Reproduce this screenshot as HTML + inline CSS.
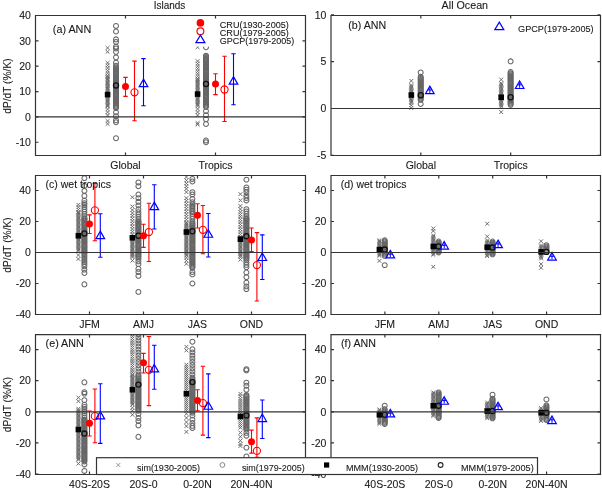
<!DOCTYPE html>
<html><head><meta charset="utf-8"><style>
html,body{margin:0;padding:0;background:#fff;overflow:hidden;}
svg{display:block;will-change:transform;}
text{font-family:"Liberation Sans", sans-serif;fill:#1a1a1a;stroke:#1a1a1a;stroke-width:0.1px;}
</style></head><body>
<svg width="602" height="488" viewBox="0 0 602 488">
<defs><path id="mx" d="M-1.9 -1.9L1.9 1.9M-1.9 1.9L1.9 -1.9" stroke="#6c6c6c" stroke-width="1" fill="none"/><circle id="mo" r="2.45" stroke="#666666" stroke-width="1.05" fill="none"/><clipPath id="clipa"><rect x="35.5" y="15.5" width="270.0" height="140.0"/></clipPath><clipPath id="clipb"><rect x="331.0" y="15.5" width="269.5" height="140.0"/></clipPath><clipPath id="clipc"><rect x="35.5" y="175.5" width="270.0" height="139.0"/></clipPath><clipPath id="clipd"><rect x="331.0" y="175.5" width="269.5" height="139.0"/></clipPath><clipPath id="clipe"><rect x="35.5" y="334.6" width="270.0" height="139.89999999999998"/></clipPath><clipPath id="clipf"><rect x="331.0" y="334.6" width="269.5" height="139.89999999999998"/></clipPath></defs>
<rect width="602" height="488" fill="#fff"/>
<g clip-path="url(#clipa)"><use href="#mx" x="107.6" y="47.9"/><use href="#mx" x="107.6" y="51.8"/><use href="#mx" x="107.6" y="75.8"/><use href="#mx" x="107.6" y="73.2"/><use href="#mx" x="107.6" y="70.7"/><use href="#mx" x="107.6" y="68.1"/><use href="#mx" x="107.6" y="65.5"/><use href="#mx" x="107.6" y="62.9"/><use href="#mx" x="107.6" y="105.5"/><use href="#mx" x="107.6" y="104.2"/><use href="#mx" x="107.6" y="102.9"/><use href="#mx" x="107.6" y="101.6"/><use href="#mx" x="107.6" y="100.3"/><use href="#mx" x="107.6" y="99.0"/><use href="#mx" x="107.6" y="97.8"/><use href="#mx" x="107.6" y="96.5"/><use href="#mx" x="107.6" y="95.2"/><use href="#mx" x="107.6" y="93.9"/><use href="#mx" x="107.6" y="92.6"/><use href="#mx" x="107.6" y="91.3"/><use href="#mx" x="107.6" y="90.0"/><use href="#mx" x="107.6" y="88.7"/><use href="#mx" x="107.6" y="87.4"/><use href="#mx" x="107.6" y="86.1"/><use href="#mx" x="107.6" y="84.9"/><use href="#mx" x="107.6" y="83.6"/><use href="#mx" x="107.6" y="82.3"/><use href="#mx" x="107.6" y="81.0"/><use href="#mx" x="107.6" y="79.7"/><use href="#mx" x="107.6" y="78.4"/><use href="#mx" x="107.6" y="77.1"/><use href="#mx" x="107.6" y="75.8"/><use href="#mx" x="107.6" y="115.1"/><use href="#mx" x="107.6" y="112.2"/><use href="#mx" x="107.6" y="109.2"/><use href="#mx" x="107.6" y="106.3"/><use href="#mx" x="107.6" y="121.0"/><use href="#mx" x="107.6" y="123.9"/></g>
<g clip-path="url(#clipa)"><use href="#mo" x="116.0" y="25.9"/><use href="#mo" x="116.0" y="31.5"/><use href="#mo" x="116.0" y="39.3"/><use href="#mo" x="116.0" y="41.9"/><use href="#mo" x="116.0" y="46.7"/><use href="#mo" x="116.0" y="48.5"/><use href="#mo" x="116.0" y="51.8"/><use href="#mo" x="116.0" y="57.3"/><use href="#mo" x="116.0" y="62.7"/><use href="#mo" x="116.0" y="65.7"/><use href="#mo" x="116.0" y="108.0"/><use href="#mo" x="116.0" y="106.9"/><use href="#mo" x="116.0" y="105.8"/><use href="#mo" x="116.0" y="104.7"/><use href="#mo" x="116.0" y="103.6"/><use href="#mo" x="116.0" y="102.5"/><use href="#mo" x="116.0" y="101.5"/><use href="#mo" x="116.0" y="100.4"/><use href="#mo" x="116.0" y="99.3"/><use href="#mo" x="116.0" y="98.2"/><use href="#mo" x="116.0" y="97.1"/><use href="#mo" x="116.0" y="96.0"/><use href="#mo" x="116.0" y="94.9"/><use href="#mo" x="116.0" y="93.8"/><use href="#mo" x="116.0" y="92.7"/><use href="#mo" x="116.0" y="91.6"/><use href="#mo" x="116.0" y="90.5"/><use href="#mo" x="116.0" y="89.4"/><use href="#mo" x="116.0" y="88.3"/><use href="#mo" x="116.0" y="87.2"/><use href="#mo" x="116.0" y="86.1"/><use href="#mo" x="116.0" y="85.0"/><use href="#mo" x="116.0" y="83.9"/><use href="#mo" x="116.0" y="82.8"/><use href="#mo" x="116.0" y="81.7"/><use href="#mo" x="116.0" y="80.6"/><use href="#mo" x="116.0" y="79.5"/><use href="#mo" x="116.0" y="78.4"/><use href="#mo" x="116.0" y="77.3"/><use href="#mo" x="116.0" y="76.2"/><use href="#mo" x="116.0" y="75.1"/><use href="#mo" x="116.0" y="74.0"/><use href="#mo" x="116.0" y="72.9"/><use href="#mo" x="116.0" y="71.9"/><use href="#mo" x="116.0" y="70.8"/><use href="#mo" x="116.0" y="69.7"/><use href="#mo" x="116.0" y="68.6"/><use href="#mo" x="116.0" y="67.5"/><use href="#mo" x="116.0" y="112.3"/><use href="#mo" x="116.0" y="116.1"/><use href="#mo" x="116.0" y="120.2"/><use href="#mo" x="116.0" y="122.2"/><use href="#mo" x="116.0" y="138.2"/></g>
<rect x="104.80" y="91.79" width="5.6" height="5.6" fill="#000"/>
<circle cx="116.00" cy="85.47" r="2.55" stroke="#111" stroke-width="1.3" fill="none"/>
<path d="M125.50 96.37V77.35M123.30 96.37H127.70M123.30 77.35H127.70" stroke="#ff0000" stroke-width="1.1" fill="none"/>
<circle cx="125.50" cy="86.48" r="3.5" fill="#ff0000"/>
<path d="M134.50 120.70V61.13M132.30 120.70H136.70M132.30 61.13H136.70" stroke="#ff0000" stroke-width="1.1" fill="none"/>
<circle cx="134.50" cy="92.31" r="3.6" stroke="#ff0000" stroke-width="1.1" fill="none"/>
<path d="M143.50 105.75V58.59M141.30 105.75H145.70M141.30 58.59H145.70" stroke="#0000ff" stroke-width="1.1" fill="none"/>
<path d="M143.50 79.14L147.80 86.64H139.20Z" stroke="#0000ff" stroke-width="1.2" fill="none" stroke-linejoin="miter"/>
<g clip-path="url(#clipa)"><use href="#mx" x="197.6" y="47.2"/><use href="#mx" x="197.6" y="78.9"/><use href="#mx" x="197.6" y="76.3"/><use href="#mx" x="197.6" y="73.8"/><use href="#mx" x="197.6" y="71.3"/><use href="#mx" x="197.6" y="68.7"/><use href="#mx" x="197.6" y="66.2"/><use href="#mx" x="197.6" y="63.7"/><use href="#mx" x="197.6" y="61.1"/><use href="#mx" x="197.6" y="106.0"/><use href="#mx" x="197.6" y="104.7"/><use href="#mx" x="197.6" y="103.4"/><use href="#mx" x="197.6" y="102.1"/><use href="#mx" x="197.6" y="100.8"/><use href="#mx" x="197.6" y="99.5"/><use href="#mx" x="197.6" y="98.2"/><use href="#mx" x="197.6" y="97.0"/><use href="#mx" x="197.6" y="95.7"/><use href="#mx" x="197.6" y="94.4"/><use href="#mx" x="197.6" y="93.1"/><use href="#mx" x="197.6" y="91.8"/><use href="#mx" x="197.6" y="90.5"/><use href="#mx" x="197.6" y="89.2"/><use href="#mx" x="197.6" y="87.9"/><use href="#mx" x="197.6" y="86.6"/><use href="#mx" x="197.6" y="85.3"/><use href="#mx" x="197.6" y="84.0"/><use href="#mx" x="197.6" y="82.7"/><use href="#mx" x="197.6" y="81.5"/><use href="#mx" x="197.6" y="80.2"/><use href="#mx" x="197.6" y="78.9"/><use href="#mx" x="197.6" y="109.0"/><use href="#mx" x="197.6" y="112.1"/><use href="#mx" x="197.6" y="115.1"/><use href="#mx" x="197.6" y="123.0"/><use href="#mx" x="197.6" y="124.5"/></g>
<g clip-path="url(#clipa)"><use href="#mo" x="206.0" y="47.2"/><use href="#mo" x="206.0" y="106.8"/><use href="#mo" x="206.0" y="105.7"/><use href="#mo" x="206.0" y="104.6"/><use href="#mo" x="206.0" y="103.5"/><use href="#mo" x="206.0" y="102.4"/><use href="#mo" x="206.0" y="101.3"/><use href="#mo" x="206.0" y="100.2"/><use href="#mo" x="206.0" y="99.1"/><use href="#mo" x="206.0" y="98.0"/><use href="#mo" x="206.0" y="97.0"/><use href="#mo" x="206.0" y="95.9"/><use href="#mo" x="206.0" y="94.8"/><use href="#mo" x="206.0" y="93.7"/><use href="#mo" x="206.0" y="92.6"/><use href="#mo" x="206.0" y="91.5"/><use href="#mo" x="206.0" y="90.4"/><use href="#mo" x="206.0" y="89.3"/><use href="#mo" x="206.0" y="88.2"/><use href="#mo" x="206.0" y="87.1"/><use href="#mo" x="206.0" y="86.1"/><use href="#mo" x="206.0" y="85.0"/><use href="#mo" x="206.0" y="83.9"/><use href="#mo" x="206.0" y="82.8"/><use href="#mo" x="206.0" y="81.7"/><use href="#mo" x="206.0" y="80.6"/><use href="#mo" x="206.0" y="79.5"/><use href="#mo" x="206.0" y="78.4"/><use href="#mo" x="206.0" y="77.3"/><use href="#mo" x="206.0" y="76.3"/><use href="#mo" x="206.0" y="75.2"/><use href="#mo" x="206.0" y="74.1"/><use href="#mo" x="206.0" y="73.0"/><use href="#mo" x="206.0" y="71.9"/><use href="#mo" x="206.0" y="70.8"/><use href="#mo" x="206.0" y="69.7"/><use href="#mo" x="206.0" y="68.6"/><use href="#mo" x="206.0" y="67.5"/><use href="#mo" x="206.0" y="66.4"/><use href="#mo" x="206.0" y="65.4"/><use href="#mo" x="206.0" y="64.3"/><use href="#mo" x="206.0" y="63.2"/><use href="#mo" x="206.0" y="62.1"/><use href="#mo" x="206.0" y="61.0"/><use href="#mo" x="206.0" y="59.9"/><use href="#mo" x="206.0" y="58.8"/><use href="#mo" x="206.0" y="57.7"/><use href="#mo" x="206.0" y="56.6"/><use href="#mo" x="206.0" y="55.6"/><use href="#mo" x="206.0" y="111.1"/><use href="#mo" x="206.0" y="115.1"/><use href="#mo" x="206.0" y="119.2"/><use href="#mo" x="206.0" y="124.0"/><use href="#mo" x="206.0" y="140.5"/><use href="#mo" x="206.0" y="142.2"/></g>
<rect x="194.80" y="91.29" width="5.6" height="5.6" fill="#000"/>
<circle cx="206.00" cy="83.95" r="2.55" stroke="#111" stroke-width="1.3" fill="none"/>
<path d="M215.50 94.59V73.81M213.30 94.59H217.70M213.30 73.81H217.70" stroke="#ff0000" stroke-width="1.1" fill="none"/>
<circle cx="215.50" cy="83.95" r="3.5" fill="#ff0000"/>
<path d="M224.50 121.46V56.31M222.30 121.46H226.70M222.30 56.31H226.70" stroke="#ff0000" stroke-width="1.1" fill="none"/>
<circle cx="224.50" cy="89.52" r="3.6" stroke="#ff0000" stroke-width="1.1" fill="none"/>
<path d="M233.50 104.73V53.78M231.30 104.73H235.70M231.30 53.78H235.70" stroke="#0000ff" stroke-width="1.1" fill="none"/>
<path d="M233.50 76.60L237.80 84.10H229.20Z" stroke="#0000ff" stroke-width="1.2" fill="none" stroke-linejoin="miter"/>
<rect x="189" y="16.2" width="115.8" height="30.4" fill="#fff"/>
<circle cx="200.4" cy="22.9" r="3.8" fill="#ff0000"/>
<circle cx="200.4" cy="31.3" r="3.4" stroke="#ff0000" stroke-width="1.2" fill="none"/>
<path d="M200.40 35.10L204.90 42.60H195.90Z" stroke="#0000ff" stroke-width="1.2" fill="none" stroke-linejoin="miter"/>
<text x="219.80" y="28.40" font-size="9" text-anchor="start" textLength="69" lengthAdjust="spacingAndGlyphs" >CRU(1930-2005)</text>
<text x="219.80" y="36.40" font-size="9" text-anchor="start" textLength="69" lengthAdjust="spacingAndGlyphs" >CRU(1979-2005)</text>
<text x="219.80" y="44.40" font-size="9" text-anchor="start" textLength="74.4" lengthAdjust="spacingAndGlyphs" >GPCP(1979-2005)</text>
<g clip-path="url(#clipb)"><use href="#mx" x="411.3" y="80.9"/><use href="#mx" x="411.3" y="102.9"/><use href="#mx" x="411.3" y="101.6"/><use href="#mx" x="411.3" y="100.3"/><use href="#mx" x="411.3" y="99.1"/><use href="#mx" x="411.3" y="97.8"/><use href="#mx" x="411.3" y="96.5"/><use href="#mx" x="411.3" y="95.3"/><use href="#mx" x="411.3" y="94.0"/><use href="#mx" x="411.3" y="92.7"/><use href="#mx" x="411.3" y="91.5"/><use href="#mx" x="411.3" y="90.2"/><use href="#mx" x="411.3" y="88.9"/><use href="#mx" x="411.3" y="87.6"/><use href="#mx" x="411.3" y="86.4"/><use href="#mx" x="411.3" y="85.1"/><use href="#mx" x="411.3" y="105.2"/><use href="#mx" x="411.3" y="108.0"/></g>
<g clip-path="url(#clipb)"><use href="#mo" x="420.7" y="72.4"/><use href="#mo" x="420.7" y="99.8"/><use href="#mo" x="420.7" y="98.7"/><use href="#mo" x="420.7" y="97.6"/><use href="#mo" x="420.7" y="96.5"/><use href="#mo" x="420.7" y="95.4"/><use href="#mo" x="420.7" y="94.3"/><use href="#mo" x="420.7" y="93.2"/><use href="#mo" x="420.7" y="92.1"/><use href="#mo" x="420.7" y="91.0"/><use href="#mo" x="420.7" y="89.9"/><use href="#mo" x="420.7" y="88.8"/><use href="#mo" x="420.7" y="87.7"/><use href="#mo" x="420.7" y="86.6"/><use href="#mo" x="420.7" y="85.5"/><use href="#mo" x="420.7" y="84.4"/><use href="#mo" x="420.7" y="83.3"/><use href="#mo" x="420.7" y="82.2"/><use href="#mo" x="420.7" y="81.1"/><use href="#mo" x="420.7" y="80.0"/><use href="#mo" x="420.7" y="78.9"/><use href="#mo" x="420.7" y="77.8"/><use href="#mo" x="420.7" y="76.7"/><use href="#mo" x="420.7" y="104.0"/></g>
<rect x="408.53" y="92.22" width="5.6" height="5.6" fill="#000"/>
<circle cx="420.73" cy="95.21" r="2.55" stroke="#111" stroke-width="1.3" fill="none"/>
<path d="M429.82 87.44V92.94M428.02 89.94H431.62" stroke="#0000ff" stroke-width="1" fill="none"/>
<path d="M429.82 86.14L434.12 93.64H425.52Z" stroke="#0000ff" stroke-width="1.2" fill="none" stroke-linejoin="miter"/>
<g clip-path="url(#clipb)"><use href="#mx" x="501.2" y="79.6"/><use href="#mx" x="501.2" y="106.6"/><use href="#mx" x="501.2" y="105.3"/><use href="#mx" x="501.2" y="104.0"/><use href="#mx" x="501.2" y="102.7"/><use href="#mx" x="501.2" y="101.4"/><use href="#mx" x="501.2" y="100.1"/><use href="#mx" x="501.2" y="98.8"/><use href="#mx" x="501.2" y="97.5"/><use href="#mx" x="501.2" y="96.2"/><use href="#mx" x="501.2" y="94.9"/><use href="#mx" x="501.2" y="93.6"/><use href="#mx" x="501.2" y="92.3"/><use href="#mx" x="501.2" y="91.0"/><use href="#mx" x="501.2" y="89.7"/><use href="#mx" x="501.2" y="88.4"/><use href="#mx" x="501.2" y="87.1"/><use href="#mx" x="501.2" y="85.8"/><use href="#mx" x="501.2" y="84.5"/><use href="#mx" x="501.2" y="83.2"/><use href="#mx" x="501.2" y="112.1"/></g>
<g clip-path="url(#clipb)"><use href="#mo" x="510.6" y="61.3"/><use href="#mo" x="510.6" y="104.8"/><use href="#mo" x="510.6" y="103.7"/><use href="#mo" x="510.6" y="102.6"/><use href="#mo" x="510.6" y="101.5"/><use href="#mo" x="510.6" y="100.4"/><use href="#mo" x="510.6" y="99.3"/><use href="#mo" x="510.6" y="98.2"/><use href="#mo" x="510.6" y="97.1"/><use href="#mo" x="510.6" y="96.0"/><use href="#mo" x="510.6" y="94.9"/><use href="#mo" x="510.6" y="93.8"/><use href="#mo" x="510.6" y="92.7"/><use href="#mo" x="510.6" y="91.7"/><use href="#mo" x="510.6" y="90.6"/><use href="#mo" x="510.6" y="89.5"/><use href="#mo" x="510.6" y="88.4"/><use href="#mo" x="510.6" y="87.3"/><use href="#mo" x="510.6" y="86.2"/><use href="#mo" x="510.6" y="85.1"/><use href="#mo" x="510.6" y="84.0"/><use href="#mo" x="510.6" y="82.9"/><use href="#mo" x="510.6" y="81.8"/><use href="#mo" x="510.6" y="80.7"/><use href="#mo" x="510.6" y="79.6"/><use href="#mo" x="510.6" y="78.5"/><use href="#mo" x="510.6" y="77.5"/><use href="#mo" x="510.6" y="76.4"/><use href="#mo" x="510.6" y="75.3"/><use href="#mo" x="510.6" y="74.2"/><use href="#mo" x="510.6" y="73.1"/><use href="#mo" x="510.6" y="72.0"/></g>
<rect x="498.37" y="94.47" width="5.6" height="5.6" fill="#000"/>
<circle cx="510.57" cy="97.27" r="2.55" stroke="#111" stroke-width="1.3" fill="none"/>
<path d="M519.65 82.29V87.79M517.85 84.79H521.45" stroke="#0000ff" stroke-width="1" fill="none"/>
<path d="M519.65 80.99L523.95 88.49H515.35Z" stroke="#0000ff" stroke-width="1.2" fill="none" stroke-linejoin="miter"/>
<path d="M499.30 22.10L503.80 29.60H494.80Z" stroke="#0000ff" stroke-width="1.2" fill="none" stroke-linejoin="miter"/>
<text x="518.10" y="31.70" font-size="9" text-anchor="start" textLength="75.5" lengthAdjust="spacingAndGlyphs" >GPCP(1979-2005)</text>
<g clip-path="url(#clipc)"><use href="#mx" x="78.4" y="212.2"/><use href="#mx" x="78.4" y="209.7"/><use href="#mx" x="78.4" y="207.2"/><use href="#mx" x="78.4" y="204.8"/><use href="#mx" x="78.4" y="250.9"/><use href="#mx" x="78.4" y="249.7"/><use href="#mx" x="78.4" y="248.4"/><use href="#mx" x="78.4" y="247.1"/><use href="#mx" x="78.4" y="245.8"/><use href="#mx" x="78.4" y="244.5"/><use href="#mx" x="78.4" y="243.2"/><use href="#mx" x="78.4" y="241.9"/><use href="#mx" x="78.4" y="240.6"/><use href="#mx" x="78.4" y="239.3"/><use href="#mx" x="78.4" y="238.0"/><use href="#mx" x="78.4" y="236.7"/><use href="#mx" x="78.4" y="235.4"/><use href="#mx" x="78.4" y="234.2"/><use href="#mx" x="78.4" y="232.9"/><use href="#mx" x="78.4" y="231.6"/><use href="#mx" x="78.4" y="230.3"/><use href="#mx" x="78.4" y="229.0"/><use href="#mx" x="78.4" y="227.7"/><use href="#mx" x="78.4" y="226.4"/><use href="#mx" x="78.4" y="225.1"/><use href="#mx" x="78.4" y="223.8"/><use href="#mx" x="78.4" y="222.5"/><use href="#mx" x="78.4" y="221.2"/><use href="#mx" x="78.4" y="219.9"/><use href="#mx" x="78.4" y="218.7"/><use href="#mx" x="78.4" y="217.4"/><use href="#mx" x="78.4" y="216.1"/><use href="#mx" x="78.4" y="214.8"/><use href="#mx" x="78.4" y="213.5"/><use href="#mx" x="78.4" y="212.2"/><use href="#mx" x="78.4" y="255.0"/><use href="#mx" x="78.4" y="259.0"/></g>
<g clip-path="url(#clipc)"><use href="#mo" x="84.4" y="178.1"/><use href="#mo" x="84.4" y="185.8"/><use href="#mo" x="84.4" y="190.8"/><use href="#mo" x="84.4" y="195.8"/><use href="#mo" x="84.4" y="200.6"/><use href="#mo" x="84.4" y="203.1"/><use href="#mo" x="84.4" y="218.4"/><use href="#mo" x="84.4" y="216.1"/><use href="#mo" x="84.4" y="213.9"/><use href="#mo" x="84.4" y="211.6"/><use href="#mo" x="84.4" y="209.3"/><use href="#mo" x="84.4" y="207.0"/><use href="#mo" x="84.4" y="204.8"/><use href="#mo" x="84.4" y="252.5"/><use href="#mo" x="84.4" y="251.4"/><use href="#mo" x="84.4" y="250.3"/><use href="#mo" x="84.4" y="249.2"/><use href="#mo" x="84.4" y="248.1"/><use href="#mo" x="84.4" y="247.0"/><use href="#mo" x="84.4" y="245.9"/><use href="#mo" x="84.4" y="244.8"/><use href="#mo" x="84.4" y="243.7"/><use href="#mo" x="84.4" y="242.6"/><use href="#mo" x="84.4" y="241.5"/><use href="#mo" x="84.4" y="240.4"/><use href="#mo" x="84.4" y="239.3"/><use href="#mo" x="84.4" y="238.2"/><use href="#mo" x="84.4" y="237.1"/><use href="#mo" x="84.4" y="236.0"/><use href="#mo" x="84.4" y="234.9"/><use href="#mo" x="84.4" y="233.8"/><use href="#mo" x="84.4" y="232.7"/><use href="#mo" x="84.4" y="231.6"/><use href="#mo" x="84.4" y="230.5"/><use href="#mo" x="84.4" y="229.4"/><use href="#mo" x="84.4" y="228.3"/><use href="#mo" x="84.4" y="227.2"/><use href="#mo" x="84.4" y="226.1"/><use href="#mo" x="84.4" y="225.0"/><use href="#mo" x="84.4" y="223.9"/><use href="#mo" x="84.4" y="222.8"/><use href="#mo" x="84.4" y="221.7"/><use href="#mo" x="84.4" y="220.6"/><use href="#mo" x="84.4" y="219.5"/><use href="#mo" x="84.4" y="218.4"/><use href="#mo" x="84.4" y="264.0"/><use href="#mo" x="84.4" y="262.0"/><use href="#mo" x="84.4" y="260.0"/><use href="#mo" x="84.4" y="258.0"/><use href="#mo" x="84.4" y="256.0"/><use href="#mo" x="84.4" y="254.1"/><use href="#mo" x="84.4" y="266.3"/><use href="#mo" x="84.4" y="269.6"/><use href="#mo" x="84.4" y="273.0"/><use href="#mo" x="84.4" y="284.3"/></g>
<rect x="75.60" y="232.96" width="5.6" height="5.6" fill="#000"/>
<circle cx="84.40" cy="233.44" r="2.55" stroke="#111" stroke-width="1.3" fill="none"/>
<path d="M89.50 233.44V214.84M87.30 233.44H91.70M87.30 214.84H91.70" stroke="#ff0000" stroke-width="1.1" fill="none"/>
<circle cx="89.50" cy="223.98" r="3.5" fill="#ff0000"/>
<path d="M94.90 240.72V183.52M92.70 240.72H97.10M92.70 183.52H97.10" stroke="#ff0000" stroke-width="1.1" fill="none"/>
<circle cx="94.90" cy="210.34" r="3.6" stroke="#ff0000" stroke-width="1.1" fill="none"/>
<path d="M100.30 257.31V213.75M98.10 257.31H102.50M98.10 213.75H102.50" stroke="#0000ff" stroke-width="1.1" fill="none"/>
<path d="M100.30 231.15L104.60 238.65H96.00Z" stroke="#0000ff" stroke-width="1.2" fill="none" stroke-linejoin="miter"/>
<g clip-path="url(#clipc)"><use href="#mx" x="132.4" y="197.2"/><use href="#mx" x="132.4" y="206.5"/><use href="#mx" x="132.4" y="210.0"/><use href="#mx" x="132.4" y="213.0"/><use href="#mx" x="132.4" y="237.0"/><use href="#mx" x="132.4" y="234.3"/><use href="#mx" x="132.4" y="231.7"/><use href="#mx" x="132.4" y="229.0"/><use href="#mx" x="132.4" y="226.4"/><use href="#mx" x="132.4" y="223.7"/><use href="#mx" x="132.4" y="221.1"/><use href="#mx" x="132.4" y="218.4"/><use href="#mx" x="132.4" y="215.8"/><use href="#mx" x="132.4" y="257.1"/><use href="#mx" x="132.4" y="255.9"/><use href="#mx" x="132.4" y="254.6"/><use href="#mx" x="132.4" y="253.4"/><use href="#mx" x="132.4" y="252.1"/><use href="#mx" x="132.4" y="250.9"/><use href="#mx" x="132.4" y="249.6"/><use href="#mx" x="132.4" y="248.3"/><use href="#mx" x="132.4" y="247.1"/><use href="#mx" x="132.4" y="245.8"/><use href="#mx" x="132.4" y="244.6"/><use href="#mx" x="132.4" y="243.3"/><use href="#mx" x="132.4" y="242.0"/><use href="#mx" x="132.4" y="240.8"/><use href="#mx" x="132.4" y="239.5"/><use href="#mx" x="132.4" y="238.3"/><use href="#mx" x="132.4" y="237.0"/><use href="#mx" x="132.4" y="260.6"/></g>
<g clip-path="url(#clipc)"><use href="#mo" x="138.4" y="182.4"/><use href="#mo" x="138.4" y="186.2"/><use href="#mo" x="138.4" y="194.5"/><use href="#mo" x="138.4" y="198.1"/><use href="#mo" x="138.4" y="201.8"/><use href="#mo" x="138.4" y="205.5"/><use href="#mo" x="138.4" y="209.3"/><use href="#mo" x="138.4" y="221.5"/><use href="#mo" x="138.4" y="219.2"/><use href="#mo" x="138.4" y="216.8"/><use href="#mo" x="138.4" y="214.5"/><use href="#mo" x="138.4" y="212.2"/><use href="#mo" x="138.4" y="257.1"/><use href="#mo" x="138.4" y="256.0"/><use href="#mo" x="138.4" y="254.9"/><use href="#mo" x="138.4" y="253.8"/><use href="#mo" x="138.4" y="252.7"/><use href="#mo" x="138.4" y="251.6"/><use href="#mo" x="138.4" y="250.5"/><use href="#mo" x="138.4" y="249.4"/><use href="#mo" x="138.4" y="248.2"/><use href="#mo" x="138.4" y="247.1"/><use href="#mo" x="138.4" y="246.0"/><use href="#mo" x="138.4" y="244.9"/><use href="#mo" x="138.4" y="243.8"/><use href="#mo" x="138.4" y="242.7"/><use href="#mo" x="138.4" y="241.6"/><use href="#mo" x="138.4" y="240.4"/><use href="#mo" x="138.4" y="239.3"/><use href="#mo" x="138.4" y="238.2"/><use href="#mo" x="138.4" y="237.1"/><use href="#mo" x="138.4" y="236.0"/><use href="#mo" x="138.4" y="234.9"/><use href="#mo" x="138.4" y="233.8"/><use href="#mo" x="138.4" y="232.6"/><use href="#mo" x="138.4" y="231.5"/><use href="#mo" x="138.4" y="230.4"/><use href="#mo" x="138.4" y="229.3"/><use href="#mo" x="138.4" y="228.2"/><use href="#mo" x="138.4" y="227.1"/><use href="#mo" x="138.4" y="226.0"/><use href="#mo" x="138.4" y="224.8"/><use href="#mo" x="138.4" y="223.7"/><use href="#mo" x="138.4" y="222.6"/><use href="#mo" x="138.4" y="221.5"/><use href="#mo" x="138.4" y="264.1"/><use href="#mo" x="138.4" y="261.4"/><use href="#mo" x="138.4" y="258.7"/><use href="#mo" x="138.4" y="268.8"/><use href="#mo" x="138.4" y="272.0"/><use href="#mo" x="138.4" y="275.8"/><use href="#mo" x="138.4" y="291.9"/></g>
<rect x="129.60" y="234.97" width="5.6" height="5.6" fill="#000"/>
<circle cx="138.40" cy="235.76" r="2.55" stroke="#111" stroke-width="1.3" fill="none"/>
<path d="M143.50 247.38V224.29M141.30 247.38H145.70M141.30 224.29H145.70" stroke="#ff0000" stroke-width="1.1" fill="none"/>
<circle cx="143.50" cy="235.76" r="3.5" fill="#ff0000"/>
<path d="M148.90 261.49V203.21M146.70 261.49H151.10M146.70 203.21H151.10" stroke="#ff0000" stroke-width="1.1" fill="none"/>
<circle cx="148.90" cy="232.04" r="3.6" stroke="#ff0000" stroke-width="1.1" fill="none"/>
<path d="M154.30 228.94V184.76M152.10 228.94H156.50M152.10 184.76H156.50" stroke="#0000ff" stroke-width="1.1" fill="none"/>
<path d="M154.30 202.16L158.60 209.66H150.00Z" stroke="#0000ff" stroke-width="1.2" fill="none" stroke-linejoin="miter"/>
<g clip-path="url(#clipc)"><use href="#mx" x="186.4" y="177.0"/><use href="#mx" x="186.4" y="180.4"/><use href="#mx" x="186.4" y="183.4"/><use href="#mx" x="186.4" y="186.2"/><use href="#mx" x="186.4" y="188.9"/><use href="#mx" x="186.4" y="192.1"/><use href="#mx" x="186.4" y="222.3"/><use href="#mx" x="186.4" y="219.6"/><use href="#mx" x="186.4" y="216.9"/><use href="#mx" x="186.4" y="214.2"/><use href="#mx" x="186.4" y="211.5"/><use href="#mx" x="186.4" y="208.8"/><use href="#mx" x="186.4" y="206.2"/><use href="#mx" x="186.4" y="203.5"/><use href="#mx" x="186.4" y="200.8"/><use href="#mx" x="186.4" y="198.1"/><use href="#mx" x="186.4" y="255.6"/><use href="#mx" x="186.4" y="254.3"/><use href="#mx" x="186.4" y="253.0"/><use href="#mx" x="186.4" y="251.7"/><use href="#mx" x="186.4" y="250.4"/><use href="#mx" x="186.4" y="249.1"/><use href="#mx" x="186.4" y="247.8"/><use href="#mx" x="186.4" y="246.5"/><use href="#mx" x="186.4" y="245.2"/><use href="#mx" x="186.4" y="243.9"/><use href="#mx" x="186.4" y="242.6"/><use href="#mx" x="186.4" y="241.3"/><use href="#mx" x="186.4" y="240.0"/><use href="#mx" x="186.4" y="238.7"/><use href="#mx" x="186.4" y="237.4"/><use href="#mx" x="186.4" y="236.1"/><use href="#mx" x="186.4" y="234.8"/><use href="#mx" x="186.4" y="233.5"/><use href="#mx" x="186.4" y="232.2"/><use href="#mx" x="186.4" y="230.9"/><use href="#mx" x="186.4" y="229.6"/><use href="#mx" x="186.4" y="228.3"/><use href="#mx" x="186.4" y="227.0"/><use href="#mx" x="186.4" y="225.7"/><use href="#mx" x="186.4" y="224.4"/><use href="#mx" x="186.4" y="223.1"/><use href="#mx" x="186.4" y="257.8"/><use href="#mx" x="186.4" y="260.6"/><use href="#mx" x="186.4" y="263.8"/></g>
<g clip-path="url(#clipc)"><use href="#mo" x="192.4" y="178.9"/><use href="#mo" x="192.4" y="181.5"/><use href="#mo" x="192.4" y="192.1"/><use href="#mo" x="192.4" y="194.5"/><use href="#mo" x="192.4" y="199.0"/><use href="#mo" x="192.4" y="202.1"/><use href="#mo" x="192.4" y="212.2"/><use href="#mo" x="192.4" y="210.7"/><use href="#mo" x="192.4" y="209.1"/><use href="#mo" x="192.4" y="207.6"/><use href="#mo" x="192.4" y="206.0"/><use href="#mo" x="192.4" y="204.4"/><use href="#mo" x="192.4" y="221.5"/><use href="#mo" x="192.4" y="218.9"/><use href="#mo" x="192.4" y="216.3"/><use href="#mo" x="192.4" y="213.8"/><use href="#mo" x="192.4" y="267.8"/><use href="#mo" x="192.4" y="266.8"/><use href="#mo" x="192.4" y="265.7"/><use href="#mo" x="192.4" y="264.6"/><use href="#mo" x="192.4" y="263.5"/><use href="#mo" x="192.4" y="262.4"/><use href="#mo" x="192.4" y="261.3"/><use href="#mo" x="192.4" y="260.2"/><use href="#mo" x="192.4" y="259.1"/><use href="#mo" x="192.4" y="258.0"/><use href="#mo" x="192.4" y="256.9"/><use href="#mo" x="192.4" y="255.8"/><use href="#mo" x="192.4" y="254.7"/><use href="#mo" x="192.4" y="253.6"/><use href="#mo" x="192.4" y="252.5"/><use href="#mo" x="192.4" y="251.5"/><use href="#mo" x="192.4" y="250.4"/><use href="#mo" x="192.4" y="249.3"/><use href="#mo" x="192.4" y="248.2"/><use href="#mo" x="192.4" y="247.1"/><use href="#mo" x="192.4" y="246.0"/><use href="#mo" x="192.4" y="244.9"/><use href="#mo" x="192.4" y="243.8"/><use href="#mo" x="192.4" y="242.7"/><use href="#mo" x="192.4" y="241.6"/><use href="#mo" x="192.4" y="240.5"/><use href="#mo" x="192.4" y="239.4"/><use href="#mo" x="192.4" y="238.3"/><use href="#mo" x="192.4" y="237.3"/><use href="#mo" x="192.4" y="236.2"/><use href="#mo" x="192.4" y="235.1"/><use href="#mo" x="192.4" y="234.0"/><use href="#mo" x="192.4" y="232.9"/><use href="#mo" x="192.4" y="231.8"/><use href="#mo" x="192.4" y="230.7"/><use href="#mo" x="192.4" y="229.6"/><use href="#mo" x="192.4" y="228.5"/><use href="#mo" x="192.4" y="227.4"/><use href="#mo" x="192.4" y="226.3"/><use href="#mo" x="192.4" y="225.2"/><use href="#mo" x="192.4" y="224.1"/><use href="#mo" x="192.4" y="223.1"/><use href="#mo" x="192.4" y="272.0"/><use href="#mo" x="192.4" y="274.4"/><use href="#mo" x="192.4" y="283.5"/></g>
<rect x="183.60" y="229.24" width="5.6" height="5.6" fill="#000"/>
<circle cx="192.40" cy="231.26" r="2.55" stroke="#111" stroke-width="1.3" fill="none"/>
<path d="M197.50 228.01V203.68M195.30 228.01H199.70M195.30 203.68H199.70" stroke="#ff0000" stroke-width="1.1" fill="none"/>
<circle cx="197.50" cy="215.14" r="3.5" fill="#ff0000"/>
<path d="M202.90 253.74V205.53M200.70 253.74H205.10M200.70 205.53H205.10" stroke="#ff0000" stroke-width="1.1" fill="none"/>
<circle cx="202.90" cy="229.87" r="3.6" stroke="#ff0000" stroke-width="1.1" fill="none"/>
<path d="M208.30 257.00V213.44M206.10 257.00H210.50M206.10 213.44H210.50" stroke="#0000ff" stroke-width="1.1" fill="none"/>
<path d="M208.30 229.75L212.60 237.25H204.00Z" stroke="#0000ff" stroke-width="1.2" fill="none" stroke-linejoin="miter"/>
<g clip-path="url(#clipc)"><use href="#mx" x="240.4" y="194.1"/><use href="#mx" x="240.4" y="200.4"/><use href="#mx" x="240.4" y="206.0"/><use href="#mx" x="240.4" y="209.1"/><use href="#mx" x="240.4" y="212.2"/><use href="#mx" x="240.4" y="214.5"/><use href="#mx" x="240.4" y="237.0"/><use href="#mx" x="240.4" y="234.5"/><use href="#mx" x="240.4" y="232.0"/><use href="#mx" x="240.4" y="229.4"/><use href="#mx" x="240.4" y="226.9"/><use href="#mx" x="240.4" y="224.4"/><use href="#mx" x="240.4" y="221.9"/><use href="#mx" x="240.4" y="219.4"/><use href="#mx" x="240.4" y="216.8"/><use href="#mx" x="240.4" y="255.6"/><use href="#mx" x="240.4" y="254.3"/><use href="#mx" x="240.4" y="252.9"/><use href="#mx" x="240.4" y="251.6"/><use href="#mx" x="240.4" y="250.3"/><use href="#mx" x="240.4" y="249.0"/><use href="#mx" x="240.4" y="247.6"/><use href="#mx" x="240.4" y="246.3"/><use href="#mx" x="240.4" y="245.0"/><use href="#mx" x="240.4" y="243.6"/><use href="#mx" x="240.4" y="242.3"/><use href="#mx" x="240.4" y="241.0"/><use href="#mx" x="240.4" y="239.7"/><use href="#mx" x="240.4" y="238.3"/><use href="#mx" x="240.4" y="237.0"/><use href="#mx" x="240.4" y="257.1"/><use href="#mx" x="240.4" y="259.6"/></g>
<g clip-path="url(#clipc)"><use href="#mo" x="246.4" y="179.6"/><use href="#mo" x="246.4" y="187.4"/><use href="#mo" x="246.4" y="189.7"/><use href="#mo" x="246.4" y="192.1"/><use href="#mo" x="246.4" y="195.5"/><use href="#mo" x="246.4" y="197.9"/><use href="#mo" x="246.4" y="200.4"/><use href="#mo" x="246.4" y="218.4"/><use href="#mo" x="246.4" y="216.1"/><use href="#mo" x="246.4" y="213.8"/><use href="#mo" x="246.4" y="211.4"/><use href="#mo" x="246.4" y="209.1"/><use href="#mo" x="246.4" y="258.7"/><use href="#mo" x="246.4" y="257.6"/><use href="#mo" x="246.4" y="256.5"/><use href="#mo" x="246.4" y="255.4"/><use href="#mo" x="246.4" y="254.3"/><use href="#mo" x="246.4" y="253.3"/><use href="#mo" x="246.4" y="252.2"/><use href="#mo" x="246.4" y="251.1"/><use href="#mo" x="246.4" y="250.0"/><use href="#mo" x="246.4" y="248.9"/><use href="#mo" x="246.4" y="247.8"/><use href="#mo" x="246.4" y="246.7"/><use href="#mo" x="246.4" y="245.6"/><use href="#mo" x="246.4" y="244.5"/><use href="#mo" x="246.4" y="243.5"/><use href="#mo" x="246.4" y="242.4"/><use href="#mo" x="246.4" y="241.3"/><use href="#mo" x="246.4" y="240.2"/><use href="#mo" x="246.4" y="239.1"/><use href="#mo" x="246.4" y="238.0"/><use href="#mo" x="246.4" y="236.9"/><use href="#mo" x="246.4" y="235.8"/><use href="#mo" x="246.4" y="234.7"/><use href="#mo" x="246.4" y="233.6"/><use href="#mo" x="246.4" y="232.6"/><use href="#mo" x="246.4" y="231.5"/><use href="#mo" x="246.4" y="230.4"/><use href="#mo" x="246.4" y="229.3"/><use href="#mo" x="246.4" y="228.2"/><use href="#mo" x="246.4" y="227.1"/><use href="#mo" x="246.4" y="226.0"/><use href="#mo" x="246.4" y="224.9"/><use href="#mo" x="246.4" y="223.8"/><use href="#mo" x="246.4" y="222.8"/><use href="#mo" x="246.4" y="221.7"/><use href="#mo" x="246.4" y="220.6"/><use href="#mo" x="246.4" y="219.5"/><use href="#mo" x="246.4" y="218.4"/><use href="#mo" x="246.4" y="267.1"/><use href="#mo" x="246.4" y="264.8"/><use href="#mo" x="246.4" y="262.5"/><use href="#mo" x="246.4" y="260.2"/><use href="#mo" x="246.4" y="272.5"/><use href="#mo" x="246.4" y="277.1"/><use href="#mo" x="246.4" y="282.7"/><use href="#mo" x="246.4" y="286.4"/><use href="#mo" x="246.4" y="289.1"/></g>
<rect x="237.60" y="236.37" width="5.6" height="5.6" fill="#000"/>
<circle cx="246.40" cy="236.22" r="2.55" stroke="#111" stroke-width="1.3" fill="none"/>
<path d="M251.50 251.57V228.01M249.30 251.57H253.70M249.30 228.01H253.70" stroke="#ff0000" stroke-width="1.1" fill="none"/>
<circle cx="251.50" cy="239.94" r="3.5" fill="#ff0000"/>
<path d="M256.90 301.01V232.66M254.70 301.01H259.10M254.70 232.66H259.10" stroke="#ff0000" stroke-width="1.1" fill="none"/>
<circle cx="256.90" cy="265.06" r="3.6" stroke="#ff0000" stroke-width="1.1" fill="none"/>
<path d="M262.30 279.47V234.83M260.10 279.47H264.50M260.10 234.83H264.50" stroke="#0000ff" stroke-width="1.1" fill="none"/>
<path d="M262.30 253.00L266.60 260.50H258.00Z" stroke="#0000ff" stroke-width="1.2" fill="none" stroke-linejoin="miter"/>
<g clip-path="url(#clipd)"><use href="#mx" x="379.4" y="255.8"/><use href="#mx" x="379.4" y="254.5"/><use href="#mx" x="379.4" y="253.2"/><use href="#mx" x="379.4" y="251.9"/><use href="#mx" x="379.4" y="250.6"/><use href="#mx" x="379.4" y="249.3"/><use href="#mx" x="379.4" y="248.0"/><use href="#mx" x="379.4" y="246.7"/><use href="#mx" x="379.4" y="245.4"/><use href="#mx" x="379.4" y="244.1"/><use href="#mx" x="379.4" y="242.8"/><use href="#mx" x="379.4" y="241.5"/><use href="#mx" x="379.4" y="240.3"/><use href="#mx" x="379.4" y="260.9"/></g>
<g clip-path="url(#clipd)"><use href="#mo" x="384.7" y="255.8"/><use href="#mo" x="384.7" y="254.6"/><use href="#mo" x="384.7" y="253.5"/><use href="#mo" x="384.7" y="252.4"/><use href="#mo" x="384.7" y="251.3"/><use href="#mo" x="384.7" y="250.2"/><use href="#mo" x="384.7" y="249.1"/><use href="#mo" x="384.7" y="248.0"/><use href="#mo" x="384.7" y="246.9"/><use href="#mo" x="384.7" y="245.8"/><use href="#mo" x="384.7" y="244.7"/><use href="#mo" x="384.7" y="243.6"/><use href="#mo" x="384.7" y="242.5"/><use href="#mo" x="384.7" y="241.4"/><use href="#mo" x="384.7" y="240.3"/><use href="#mo" x="384.7" y="265.1"/></g>
<rect x="376.60" y="246.75" width="5.6" height="5.6" fill="#000"/>
<circle cx="384.70" cy="249.56" r="2.55" stroke="#111" stroke-width="1.3" fill="none"/>
<path d="M390.29 251.67V257.17M388.49 254.17H392.09" stroke="#0000ff" stroke-width="1" fill="none"/>
<path d="M390.29 250.37L394.59 257.87H385.99Z" stroke="#0000ff" stroke-width="1.2" fill="none" stroke-linejoin="miter"/>
<g clip-path="url(#clipd)"><use href="#mx" x="433.3" y="228.5"/><use href="#mx" x="433.3" y="231.0"/><use href="#mx" x="433.3" y="254.8"/><use href="#mx" x="433.3" y="253.5"/><use href="#mx" x="433.3" y="252.2"/><use href="#mx" x="433.3" y="250.9"/><use href="#mx" x="433.3" y="249.7"/><use href="#mx" x="433.3" y="248.4"/><use href="#mx" x="433.3" y="247.1"/><use href="#mx" x="433.3" y="245.8"/><use href="#mx" x="433.3" y="244.5"/><use href="#mx" x="433.3" y="243.2"/><use href="#mx" x="433.3" y="241.9"/><use href="#mx" x="433.3" y="240.6"/><use href="#mx" x="433.3" y="239.3"/><use href="#mx" x="433.3" y="238.0"/><use href="#mx" x="433.3" y="236.7"/><use href="#mx" x="433.3" y="235.4"/><use href="#mx" x="433.3" y="266.8"/></g>
<g clip-path="url(#clipd)"><use href="#mo" x="438.6" y="252.5"/><use href="#mo" x="438.6" y="251.4"/><use href="#mo" x="438.6" y="250.3"/><use href="#mo" x="438.6" y="249.2"/><use href="#mo" x="438.6" y="248.1"/><use href="#mo" x="438.6" y="247.0"/><use href="#mo" x="438.6" y="245.9"/><use href="#mo" x="438.6" y="244.8"/><use href="#mo" x="438.6" y="243.7"/><use href="#mo" x="438.6" y="242.6"/><use href="#mo" x="438.6" y="241.5"/></g>
<rect x="430.50" y="243.66" width="5.6" height="5.6" fill="#000"/>
<circle cx="438.60" cy="246.46" r="2.55" stroke="#111" stroke-width="1.3" fill="none"/>
<path d="M444.19 242.84V248.34M442.39 245.34H445.99" stroke="#0000ff" stroke-width="1" fill="none"/>
<path d="M444.19 241.53L448.49 249.03H439.89Z" stroke="#0000ff" stroke-width="1.2" fill="none" stroke-linejoin="miter"/>
<g clip-path="url(#clipd)"><use href="#mx" x="487.2" y="223.7"/><use href="#mx" x="487.2" y="236.5"/><use href="#mx" x="487.2" y="256.1"/><use href="#mx" x="487.2" y="254.8"/><use href="#mx" x="487.2" y="253.5"/><use href="#mx" x="487.2" y="252.2"/><use href="#mx" x="487.2" y="250.8"/><use href="#mx" x="487.2" y="249.5"/><use href="#mx" x="487.2" y="248.2"/><use href="#mx" x="487.2" y="246.9"/><use href="#mx" x="487.2" y="245.6"/><use href="#mx" x="487.2" y="244.3"/><use href="#mx" x="487.2" y="243.0"/><use href="#mx" x="487.2" y="241.7"/><use href="#mx" x="487.2" y="240.4"/></g>
<g clip-path="url(#clipd)"><use href="#mo" x="492.5" y="254.4"/><use href="#mo" x="492.5" y="253.3"/><use href="#mo" x="492.5" y="252.2"/><use href="#mo" x="492.5" y="251.1"/><use href="#mo" x="492.5" y="250.1"/><use href="#mo" x="492.5" y="249.0"/><use href="#mo" x="492.5" y="247.9"/><use href="#mo" x="492.5" y="246.9"/><use href="#mo" x="492.5" y="245.8"/><use href="#mo" x="492.5" y="244.7"/><use href="#mo" x="492.5" y="243.6"/><use href="#mo" x="492.5" y="242.6"/><use href="#mo" x="492.5" y="241.5"/></g>
<rect x="484.40" y="244.43" width="5.6" height="5.6" fill="#000"/>
<circle cx="492.50" cy="247.54" r="2.55" stroke="#111" stroke-width="1.3" fill="none"/>
<path d="M498.09 241.44V246.94M496.29 243.94H499.89" stroke="#0000ff" stroke-width="1" fill="none"/>
<path d="M498.09 240.14L502.39 247.64H493.79Z" stroke="#0000ff" stroke-width="1.2" fill="none" stroke-linejoin="miter"/>
<g clip-path="url(#clipd)"><use href="#mx" x="541.1" y="241.3"/><use href="#mx" x="541.1" y="258.5"/><use href="#mx" x="541.1" y="257.2"/><use href="#mx" x="541.1" y="255.9"/><use href="#mx" x="541.1" y="254.6"/><use href="#mx" x="541.1" y="253.3"/><use href="#mx" x="541.1" y="252.0"/><use href="#mx" x="541.1" y="250.6"/><use href="#mx" x="541.1" y="249.3"/><use href="#mx" x="541.1" y="248.0"/><use href="#mx" x="541.1" y="246.7"/><use href="#mx" x="541.1" y="245.4"/><use href="#mx" x="541.1" y="264.1"/><use href="#mx" x="541.1" y="267.8"/></g>
<g clip-path="url(#clipd)"><use href="#mo" x="546.4" y="252.0"/><use href="#mo" x="546.4" y="250.9"/><use href="#mo" x="546.4" y="249.8"/><use href="#mo" x="546.4" y="248.6"/><use href="#mo" x="546.4" y="247.5"/><use href="#mo" x="546.4" y="246.4"/><use href="#mo" x="546.4" y="245.2"/></g>
<rect x="538.30" y="249.08" width="5.6" height="5.6" fill="#000"/>
<circle cx="546.40" cy="251.88" r="2.55" stroke="#111" stroke-width="1.3" fill="none"/>
<path d="M551.99 253.84V259.34M550.19 256.34H553.79" stroke="#0000ff" stroke-width="1" fill="none"/>
<path d="M551.99 252.54L556.29 260.04H547.69Z" stroke="#0000ff" stroke-width="1.2" fill="none" stroke-linejoin="miter"/>
<g clip-path="url(#clipe)"><use href="#mx" x="78.4" y="397.6"/><use href="#mx" x="78.4" y="401.2"/><use href="#mx" x="78.4" y="459.8"/><use href="#mx" x="78.4" y="458.5"/><use href="#mx" x="78.4" y="457.2"/><use href="#mx" x="78.4" y="455.9"/><use href="#mx" x="78.4" y="454.6"/><use href="#mx" x="78.4" y="453.3"/><use href="#mx" x="78.4" y="452.0"/><use href="#mx" x="78.4" y="450.7"/><use href="#mx" x="78.4" y="449.4"/><use href="#mx" x="78.4" y="448.1"/><use href="#mx" x="78.4" y="446.8"/><use href="#mx" x="78.4" y="445.5"/><use href="#mx" x="78.4" y="444.2"/><use href="#mx" x="78.4" y="442.8"/><use href="#mx" x="78.4" y="441.5"/><use href="#mx" x="78.4" y="440.2"/><use href="#mx" x="78.4" y="438.9"/><use href="#mx" x="78.4" y="437.6"/><use href="#mx" x="78.4" y="436.3"/><use href="#mx" x="78.4" y="435.0"/><use href="#mx" x="78.4" y="433.7"/><use href="#mx" x="78.4" y="432.4"/><use href="#mx" x="78.4" y="431.1"/><use href="#mx" x="78.4" y="429.8"/><use href="#mx" x="78.4" y="428.5"/><use href="#mx" x="78.4" y="427.2"/><use href="#mx" x="78.4" y="425.8"/><use href="#mx" x="78.4" y="424.5"/><use href="#mx" x="78.4" y="423.2"/><use href="#mx" x="78.4" y="421.9"/><use href="#mx" x="78.4" y="420.6"/><use href="#mx" x="78.4" y="419.3"/><use href="#mx" x="78.4" y="418.0"/><use href="#mx" x="78.4" y="416.7"/><use href="#mx" x="78.4" y="415.4"/><use href="#mx" x="78.4" y="414.1"/><use href="#mx" x="78.4" y="412.8"/><use href="#mx" x="78.4" y="411.5"/><use href="#mx" x="78.4" y="410.2"/><use href="#mx" x="78.4" y="408.8"/><use href="#mx" x="78.4" y="463.6"/></g>
<g clip-path="url(#clipe)"><use href="#mo" x="84.4" y="382.3"/><use href="#mo" x="84.4" y="392.1"/><use href="#mo" x="84.4" y="393.6"/><use href="#mo" x="84.4" y="400.1"/><use href="#mo" x="84.4" y="419.6"/><use href="#mo" x="84.4" y="417.5"/><use href="#mo" x="84.4" y="415.4"/><use href="#mo" x="84.4" y="413.2"/><use href="#mo" x="84.4" y="411.1"/><use href="#mo" x="84.4" y="409.0"/><use href="#mo" x="84.4" y="406.9"/><use href="#mo" x="84.4" y="404.8"/><use href="#mo" x="84.4" y="461.4"/><use href="#mo" x="84.4" y="460.3"/><use href="#mo" x="84.4" y="459.2"/><use href="#mo" x="84.4" y="458.1"/><use href="#mo" x="84.4" y="457.0"/><use href="#mo" x="84.4" y="455.9"/><use href="#mo" x="84.4" y="454.8"/><use href="#mo" x="84.4" y="453.7"/><use href="#mo" x="84.4" y="452.6"/><use href="#mo" x="84.4" y="451.5"/><use href="#mo" x="84.4" y="450.4"/><use href="#mo" x="84.4" y="449.3"/><use href="#mo" x="84.4" y="448.2"/><use href="#mo" x="84.4" y="447.1"/><use href="#mo" x="84.4" y="446.0"/><use href="#mo" x="84.4" y="444.9"/><use href="#mo" x="84.4" y="443.8"/><use href="#mo" x="84.4" y="442.7"/><use href="#mo" x="84.4" y="441.6"/><use href="#mo" x="84.4" y="440.5"/><use href="#mo" x="84.4" y="439.4"/><use href="#mo" x="84.4" y="438.3"/><use href="#mo" x="84.4" y="437.2"/><use href="#mo" x="84.4" y="436.1"/><use href="#mo" x="84.4" y="435.0"/><use href="#mo" x="84.4" y="433.9"/><use href="#mo" x="84.4" y="432.8"/><use href="#mo" x="84.4" y="431.7"/><use href="#mo" x="84.4" y="430.6"/><use href="#mo" x="84.4" y="429.5"/><use href="#mo" x="84.4" y="428.4"/><use href="#mo" x="84.4" y="427.3"/><use href="#mo" x="84.4" y="426.2"/><use href="#mo" x="84.4" y="425.1"/><use href="#mo" x="84.4" y="424.0"/><use href="#mo" x="84.4" y="422.9"/><use href="#mo" x="84.4" y="421.8"/><use href="#mo" x="84.4" y="420.7"/><use href="#mo" x="84.4" y="419.6"/><use href="#mo" x="84.4" y="464.4"/><use href="#mo" x="84.4" y="470.9"/></g>
<rect x="75.60" y="426.73" width="5.6" height="5.6" fill="#000"/>
<circle cx="84.40" cy="433.57" r="2.55" stroke="#111" stroke-width="1.3" fill="none"/>
<path d="M89.50 436.06V411.02M87.30 436.06H91.70M87.30 411.02H91.70" stroke="#ff0000" stroke-width="1.1" fill="none"/>
<circle cx="89.50" cy="423.31" r="3.5" fill="#ff0000"/>
<path d="M94.90 442.74V388.94M92.70 442.74H97.10M92.70 388.94H97.10" stroke="#ff0000" stroke-width="1.1" fill="none"/>
<circle cx="94.90" cy="416.15" r="3.6" stroke="#ff0000" stroke-width="1.1" fill="none"/>
<path d="M100.30 443.37V383.81M98.10 443.37H102.50M98.10 383.81H102.50" stroke="#0000ff" stroke-width="1.1" fill="none"/>
<path d="M100.30 411.39L104.60 418.89H96.00Z" stroke="#0000ff" stroke-width="1.2" fill="none" stroke-linejoin="miter"/>
<g clip-path="url(#clipe)"><use href="#mx" x="132.4" y="374.5"/><use href="#mx" x="132.4" y="372.2"/><use href="#mx" x="132.4" y="370.0"/><use href="#mx" x="132.4" y="367.7"/><use href="#mx" x="132.4" y="365.5"/><use href="#mx" x="132.4" y="363.2"/><use href="#mx" x="132.4" y="361.0"/><use href="#mx" x="132.4" y="358.8"/><use href="#mx" x="132.4" y="356.5"/><use href="#mx" x="132.4" y="354.3"/><use href="#mx" x="132.4" y="352.0"/><use href="#mx" x="132.4" y="349.8"/><use href="#mx" x="132.4" y="347.5"/><use href="#mx" x="132.4" y="345.3"/><use href="#mx" x="132.4" y="343.0"/><use href="#mx" x="132.4" y="340.8"/><use href="#mx" x="132.4" y="338.5"/><use href="#mx" x="132.4" y="336.3"/><use href="#mx" x="132.4" y="334.1"/><use href="#mx" x="132.4" y="404.6"/><use href="#mx" x="132.4" y="403.3"/><use href="#mx" x="132.4" y="402.0"/><use href="#mx" x="132.4" y="400.7"/><use href="#mx" x="132.4" y="399.4"/><use href="#mx" x="132.4" y="398.1"/><use href="#mx" x="132.4" y="396.8"/><use href="#mx" x="132.4" y="395.5"/><use href="#mx" x="132.4" y="394.2"/><use href="#mx" x="132.4" y="392.8"/><use href="#mx" x="132.4" y="391.5"/><use href="#mx" x="132.4" y="390.2"/><use href="#mx" x="132.4" y="388.9"/><use href="#mx" x="132.4" y="387.6"/><use href="#mx" x="132.4" y="386.3"/><use href="#mx" x="132.4" y="385.0"/><use href="#mx" x="132.4" y="383.7"/><use href="#mx" x="132.4" y="382.3"/><use href="#mx" x="132.4" y="381.0"/><use href="#mx" x="132.4" y="379.7"/><use href="#mx" x="132.4" y="378.4"/><use href="#mx" x="132.4" y="377.1"/><use href="#mx" x="132.4" y="375.8"/><use href="#mx" x="132.4" y="374.5"/><use href="#mx" x="132.4" y="407.8"/><use href="#mx" x="132.4" y="410.7"/><use href="#mx" x="132.4" y="414.8"/></g>
<g clip-path="url(#clipe)"><use href="#mo" x="138.4" y="374.5"/><use href="#mo" x="138.4" y="371.4"/><use href="#mo" x="138.4" y="368.3"/><use href="#mo" x="138.4" y="365.2"/><use href="#mo" x="138.4" y="362.0"/><use href="#mo" x="138.4" y="358.9"/><use href="#mo" x="138.4" y="355.8"/><use href="#mo" x="138.4" y="352.7"/><use href="#mo" x="138.4" y="349.6"/><use href="#mo" x="138.4" y="346.5"/><use href="#mo" x="138.4" y="343.4"/><use href="#mo" x="138.4" y="340.3"/><use href="#mo" x="138.4" y="337.2"/><use href="#mo" x="138.4" y="334.1"/><use href="#mo" x="138.4" y="410.7"/><use href="#mo" x="138.4" y="409.6"/><use href="#mo" x="138.4" y="408.5"/><use href="#mo" x="138.4" y="407.5"/><use href="#mo" x="138.4" y="406.4"/><use href="#mo" x="138.4" y="405.3"/><use href="#mo" x="138.4" y="404.2"/><use href="#mo" x="138.4" y="403.1"/><use href="#mo" x="138.4" y="402.0"/><use href="#mo" x="138.4" y="401.0"/><use href="#mo" x="138.4" y="399.9"/><use href="#mo" x="138.4" y="398.8"/><use href="#mo" x="138.4" y="397.7"/><use href="#mo" x="138.4" y="396.6"/><use href="#mo" x="138.4" y="395.5"/><use href="#mo" x="138.4" y="394.5"/><use href="#mo" x="138.4" y="393.4"/><use href="#mo" x="138.4" y="392.3"/><use href="#mo" x="138.4" y="391.2"/><use href="#mo" x="138.4" y="390.1"/><use href="#mo" x="138.4" y="389.0"/><use href="#mo" x="138.4" y="388.0"/><use href="#mo" x="138.4" y="386.9"/><use href="#mo" x="138.4" y="385.8"/><use href="#mo" x="138.4" y="384.7"/><use href="#mo" x="138.4" y="383.6"/><use href="#mo" x="138.4" y="382.5"/><use href="#mo" x="138.4" y="381.5"/><use href="#mo" x="138.4" y="380.4"/><use href="#mo" x="138.4" y="379.3"/><use href="#mo" x="138.4" y="378.2"/><use href="#mo" x="138.4" y="377.1"/><use href="#mo" x="138.4" y="376.0"/><use href="#mo" x="138.4" y="413.8"/><use href="#mo" x="138.4" y="417.9"/><use href="#mo" x="138.4" y="421.0"/><use href="#mo" x="138.4" y="425.3"/><use href="#mo" x="138.4" y="436.8"/></g>
<rect x="129.60" y="386.92" width="5.6" height="5.6" fill="#000"/>
<circle cx="138.40" cy="384.59" r="2.55" stroke="#111" stroke-width="1.3" fill="none"/>
<path d="M143.50 372.93V353.33M141.30 372.93H145.70M141.30 353.33H145.70" stroke="#ff0000" stroke-width="1.1" fill="none"/>
<circle cx="143.50" cy="362.66" r="3.5" fill="#ff0000"/>
<path d="M148.90 405.58V336.54M146.70 405.58H151.10M146.70 336.54H151.10" stroke="#ff0000" stroke-width="1.1" fill="none"/>
<circle cx="148.90" cy="369.81" r="3.6" stroke="#ff0000" stroke-width="1.1" fill="none"/>
<path d="M154.30 389.25V345.25M152.10 389.25H156.50M152.10 345.25H156.50" stroke="#0000ff" stroke-width="1.1" fill="none"/>
<path d="M154.30 364.43L158.60 371.93H150.00Z" stroke="#0000ff" stroke-width="1.2" fill="none" stroke-linejoin="miter"/>
<g clip-path="url(#clipe)"><use href="#mx" x="186.4" y="346.8"/><use href="#mx" x="186.4" y="350.4"/><use href="#mx" x="186.4" y="410.7"/><use href="#mx" x="186.4" y="408.7"/><use href="#mx" x="186.4" y="406.7"/><use href="#mx" x="186.4" y="404.7"/><use href="#mx" x="186.4" y="402.7"/><use href="#mx" x="186.4" y="400.7"/><use href="#mx" x="186.4" y="398.7"/><use href="#mx" x="186.4" y="396.7"/><use href="#mx" x="186.4" y="394.7"/><use href="#mx" x="186.4" y="392.7"/><use href="#mx" x="186.4" y="390.7"/><use href="#mx" x="186.4" y="388.7"/><use href="#mx" x="186.4" y="386.7"/><use href="#mx" x="186.4" y="384.7"/><use href="#mx" x="186.4" y="382.7"/><use href="#mx" x="186.4" y="380.7"/><use href="#mx" x="186.4" y="378.7"/><use href="#mx" x="186.4" y="376.7"/><use href="#mx" x="186.4" y="374.7"/><use href="#mx" x="186.4" y="372.7"/><use href="#mx" x="186.4" y="370.7"/><use href="#mx" x="186.4" y="368.7"/><use href="#mx" x="186.4" y="366.7"/><use href="#mx" x="186.4" y="364.7"/><use href="#mx" x="186.4" y="413.8"/><use href="#mx" x="186.4" y="417.9"/><use href="#mx" x="186.4" y="422.1"/><use href="#mx" x="186.4" y="426.1"/><use href="#mx" x="186.4" y="431.9"/></g>
<g clip-path="url(#clipe)"><use href="#mo" x="192.4" y="341.7"/><use href="#mo" x="192.4" y="377.6"/><use href="#mo" x="192.4" y="374.4"/><use href="#mo" x="192.4" y="371.3"/><use href="#mo" x="192.4" y="368.2"/><use href="#mo" x="192.4" y="365.0"/><use href="#mo" x="192.4" y="361.9"/><use href="#mo" x="192.4" y="358.7"/><use href="#mo" x="192.4" y="355.6"/><use href="#mo" x="192.4" y="352.4"/><use href="#mo" x="192.4" y="349.3"/><use href="#mo" x="192.4" y="412.7"/><use href="#mo" x="192.4" y="411.6"/><use href="#mo" x="192.4" y="410.6"/><use href="#mo" x="192.4" y="409.5"/><use href="#mo" x="192.4" y="408.4"/><use href="#mo" x="192.4" y="407.3"/><use href="#mo" x="192.4" y="406.2"/><use href="#mo" x="192.4" y="405.1"/><use href="#mo" x="192.4" y="404.1"/><use href="#mo" x="192.4" y="403.0"/><use href="#mo" x="192.4" y="401.9"/><use href="#mo" x="192.4" y="400.8"/><use href="#mo" x="192.4" y="399.7"/><use href="#mo" x="192.4" y="398.6"/><use href="#mo" x="192.4" y="397.6"/><use href="#mo" x="192.4" y="396.5"/><use href="#mo" x="192.4" y="395.4"/><use href="#mo" x="192.4" y="394.3"/><use href="#mo" x="192.4" y="393.2"/><use href="#mo" x="192.4" y="392.1"/><use href="#mo" x="192.4" y="391.1"/><use href="#mo" x="192.4" y="390.0"/><use href="#mo" x="192.4" y="388.9"/><use href="#mo" x="192.4" y="387.8"/><use href="#mo" x="192.4" y="386.7"/><use href="#mo" x="192.4" y="385.6"/><use href="#mo" x="192.4" y="384.6"/><use href="#mo" x="192.4" y="383.5"/><use href="#mo" x="192.4" y="382.4"/><use href="#mo" x="192.4" y="381.3"/><use href="#mo" x="192.4" y="380.2"/><use href="#mo" x="192.4" y="379.1"/><use href="#mo" x="192.4" y="415.5"/><use href="#mo" x="192.4" y="419.6"/><use href="#mo" x="192.4" y="423.0"/><use href="#mo" x="192.4" y="425.8"/><use href="#mo" x="192.4" y="428.0"/></g>
<rect x="183.60" y="390.96" width="5.6" height="5.6" fill="#000"/>
<circle cx="192.40" cy="382.10" r="2.55" stroke="#111" stroke-width="1.3" fill="none"/>
<path d="M197.50 410.71V389.72M195.30 410.71H199.70M195.30 389.72H199.70" stroke="#ff0000" stroke-width="1.1" fill="none"/>
<circle cx="197.50" cy="400.45" r="3.5" fill="#ff0000"/>
<path d="M202.90 435.12V366.24M200.70 435.12H205.10M200.70 366.24H205.10" stroke="#ff0000" stroke-width="1.1" fill="none"/>
<circle cx="202.90" cy="403.09" r="3.6" stroke="#ff0000" stroke-width="1.1" fill="none"/>
<path d="M208.30 437.61V373.86M206.10 437.61H210.50M206.10 373.86H210.50" stroke="#0000ff" stroke-width="1.1" fill="none"/>
<path d="M208.30 401.75L212.60 409.25H204.00Z" stroke="#0000ff" stroke-width="1.2" fill="none" stroke-linejoin="miter"/>
<g clip-path="url(#clipe)"><use href="#mx" x="240.4" y="393.8"/><use href="#mx" x="240.4" y="396.2"/><use href="#mx" x="240.4" y="427.7"/><use href="#mx" x="240.4" y="425.6"/><use href="#mx" x="240.4" y="423.6"/><use href="#mx" x="240.4" y="421.5"/><use href="#mx" x="240.4" y="419.4"/><use href="#mx" x="240.4" y="417.4"/><use href="#mx" x="240.4" y="415.3"/><use href="#mx" x="240.4" y="413.3"/><use href="#mx" x="240.4" y="411.2"/><use href="#mx" x="240.4" y="409.2"/><use href="#mx" x="240.4" y="407.1"/><use href="#mx" x="240.4" y="405.1"/><use href="#mx" x="240.4" y="403.0"/><use href="#mx" x="240.4" y="400.9"/><use href="#mx" x="240.4" y="398.9"/><use href="#mx" x="240.4" y="432.6"/><use href="#mx" x="240.4" y="436.7"/><use href="#mx" x="240.4" y="440.7"/><use href="#mx" x="240.4" y="444.0"/><use href="#mx" x="240.4" y="446.0"/></g>
<g clip-path="url(#clipe)"><use href="#mo" x="246.4" y="369.2"/><use href="#mo" x="246.4" y="370.3"/><use href="#mo" x="246.4" y="382.6"/><use href="#mo" x="246.4" y="385.7"/><use href="#mo" x="246.4" y="389.7"/><use href="#mo" x="246.4" y="429.7"/><use href="#mo" x="246.4" y="428.6"/><use href="#mo" x="246.4" y="427.5"/><use href="#mo" x="246.4" y="426.4"/><use href="#mo" x="246.4" y="425.3"/><use href="#mo" x="246.4" y="424.2"/><use href="#mo" x="246.4" y="423.2"/><use href="#mo" x="246.4" y="422.1"/><use href="#mo" x="246.4" y="421.0"/><use href="#mo" x="246.4" y="419.9"/><use href="#mo" x="246.4" y="418.8"/><use href="#mo" x="246.4" y="417.7"/><use href="#mo" x="246.4" y="416.6"/><use href="#mo" x="246.4" y="415.5"/><use href="#mo" x="246.4" y="414.4"/><use href="#mo" x="246.4" y="413.4"/><use href="#mo" x="246.4" y="412.3"/><use href="#mo" x="246.4" y="411.2"/><use href="#mo" x="246.4" y="410.1"/><use href="#mo" x="246.4" y="409.0"/><use href="#mo" x="246.4" y="407.9"/><use href="#mo" x="246.4" y="406.8"/><use href="#mo" x="246.4" y="405.7"/><use href="#mo" x="246.4" y="404.6"/><use href="#mo" x="246.4" y="403.6"/><use href="#mo" x="246.4" y="402.5"/><use href="#mo" x="246.4" y="401.4"/><use href="#mo" x="246.4" y="400.3"/><use href="#mo" x="246.4" y="399.2"/><use href="#mo" x="246.4" y="398.1"/><use href="#mo" x="246.4" y="397.0"/><use href="#mo" x="246.4" y="395.9"/><use href="#mo" x="246.4" y="394.9"/><use href="#mo" x="246.4" y="432.8"/><use href="#mo" x="246.4" y="435.7"/><use href="#mo" x="246.4" y="447.6"/><use href="#mo" x="246.4" y="456.4"/></g>
<rect x="237.60" y="413.67" width="5.6" height="5.6" fill="#000"/>
<circle cx="246.40" cy="415.38" r="2.55" stroke="#111" stroke-width="1.3" fill="none"/>
<path d="M251.50 453.16V430.15M249.30 453.16H253.70M249.30 430.15H253.70" stroke="#ff0000" stroke-width="1.1" fill="none"/>
<circle cx="251.50" cy="441.81" r="3.5" fill="#ff0000"/>
<path d="M256.90 457.36V417.86M254.70 457.36H259.10M254.70 417.86H259.10" stroke="#ff0000" stroke-width="1.1" fill="none"/>
<circle cx="256.90" cy="450.83" r="3.6" stroke="#ff0000" stroke-width="1.1" fill="none"/>
<path d="M262.30 438.55V399.98M260.10 438.55H264.50M260.10 399.98H264.50" stroke="#0000ff" stroke-width="1.1" fill="none"/>
<path d="M262.30 414.03L266.60 421.53H258.00Z" stroke="#0000ff" stroke-width="1.2" fill="none" stroke-linejoin="miter"/>
<g clip-path="url(#clipf)"><use href="#mx" x="379.4" y="423.9"/><use href="#mx" x="379.4" y="422.6"/><use href="#mx" x="379.4" y="421.3"/><use href="#mx" x="379.4" y="420.0"/><use href="#mx" x="379.4" y="418.7"/><use href="#mx" x="379.4" y="417.4"/><use href="#mx" x="379.4" y="416.0"/><use href="#mx" x="379.4" y="414.7"/><use href="#mx" x="379.4" y="413.4"/><use href="#mx" x="379.4" y="412.1"/><use href="#mx" x="379.4" y="410.8"/><use href="#mx" x="379.4" y="409.5"/></g>
<g clip-path="url(#clipf)"><use href="#mo" x="384.7" y="405.6"/><use href="#mo" x="384.7" y="423.9"/><use href="#mo" x="384.7" y="422.8"/><use href="#mo" x="384.7" y="421.7"/><use href="#mo" x="384.7" y="420.6"/><use href="#mo" x="384.7" y="419.4"/><use href="#mo" x="384.7" y="418.3"/><use href="#mo" x="384.7" y="417.2"/><use href="#mo" x="384.7" y="416.1"/><use href="#mo" x="384.7" y="414.9"/><use href="#mo" x="384.7" y="413.8"/><use href="#mo" x="384.7" y="412.7"/><use href="#mo" x="384.7" y="411.6"/><use href="#mo" x="384.7" y="410.4"/><use href="#mo" x="384.7" y="409.3"/></g>
<rect x="376.60" y="411.95" width="5.6" height="5.6" fill="#000"/>
<circle cx="384.70" cy="414.75" r="2.55" stroke="#111" stroke-width="1.3" fill="none"/>
<path d="M390.29 410.67V416.17M388.49 413.17H392.09" stroke="#0000ff" stroke-width="1" fill="none"/>
<path d="M390.29 409.37L394.59 416.87H385.99Z" stroke="#0000ff" stroke-width="1.2" fill="none" stroke-linejoin="miter"/>
<g clip-path="url(#clipf)"><use href="#mx" x="433.3" y="416.0"/><use href="#mx" x="433.3" y="414.7"/><use href="#mx" x="433.3" y="413.4"/><use href="#mx" x="433.3" y="412.1"/><use href="#mx" x="433.3" y="410.7"/><use href="#mx" x="433.3" y="409.4"/><use href="#mx" x="433.3" y="408.1"/><use href="#mx" x="433.3" y="406.8"/><use href="#mx" x="433.3" y="405.5"/><use href="#mx" x="433.3" y="404.2"/><use href="#mx" x="433.3" y="402.9"/><use href="#mx" x="433.3" y="401.6"/><use href="#mx" x="433.3" y="400.2"/><use href="#mx" x="433.3" y="398.9"/><use href="#mx" x="433.3" y="397.6"/><use href="#mx" x="433.3" y="396.3"/><use href="#mx" x="433.3" y="395.0"/><use href="#mx" x="433.3" y="393.7"/><use href="#mx" x="433.3" y="392.4"/></g>
<g clip-path="url(#clipf)"><use href="#mo" x="438.6" y="418.0"/><use href="#mo" x="438.6" y="416.9"/><use href="#mo" x="438.6" y="415.8"/><use href="#mo" x="438.6" y="414.7"/><use href="#mo" x="438.6" y="413.6"/><use href="#mo" x="438.6" y="412.4"/><use href="#mo" x="438.6" y="411.3"/><use href="#mo" x="438.6" y="410.2"/><use href="#mo" x="438.6" y="409.1"/><use href="#mo" x="438.6" y="408.0"/><use href="#mo" x="438.6" y="406.9"/><use href="#mo" x="438.6" y="405.7"/><use href="#mo" x="438.6" y="404.6"/><use href="#mo" x="438.6" y="403.5"/><use href="#mo" x="438.6" y="402.4"/><use href="#mo" x="438.6" y="401.3"/><use href="#mo" x="438.6" y="400.2"/><use href="#mo" x="438.6" y="399.1"/><use href="#mo" x="438.6" y="397.9"/><use href="#mo" x="438.6" y="396.8"/><use href="#mo" x="438.6" y="395.7"/><use href="#mo" x="438.6" y="394.6"/><use href="#mo" x="438.6" y="393.5"/><use href="#mo" x="438.6" y="392.4"/></g>
<rect x="430.50" y="402.94" width="5.6" height="5.6" fill="#000"/>
<circle cx="438.60" cy="405.74" r="2.55" stroke="#111" stroke-width="1.3" fill="none"/>
<path d="M444.19 398.07V403.57M442.39 400.57H445.99" stroke="#0000ff" stroke-width="1" fill="none"/>
<path d="M444.19 396.77L448.49 404.27H439.89Z" stroke="#0000ff" stroke-width="1.2" fill="none" stroke-linejoin="miter"/>
<g clip-path="url(#clipf)"><use href="#mx" x="487.2" y="418.3"/><use href="#mx" x="487.2" y="417.0"/><use href="#mx" x="487.2" y="415.7"/><use href="#mx" x="487.2" y="414.4"/><use href="#mx" x="487.2" y="413.0"/><use href="#mx" x="487.2" y="411.7"/><use href="#mx" x="487.2" y="410.4"/><use href="#mx" x="487.2" y="409.1"/><use href="#mx" x="487.2" y="407.8"/><use href="#mx" x="487.2" y="406.4"/><use href="#mx" x="487.2" y="405.1"/><use href="#mx" x="487.2" y="403.8"/><use href="#mx" x="487.2" y="402.5"/></g>
<g clip-path="url(#clipf)"><use href="#mo" x="492.5" y="394.7"/><use href="#mo" x="492.5" y="418.3"/><use href="#mo" x="492.5" y="417.2"/><use href="#mo" x="492.5" y="416.2"/><use href="#mo" x="492.5" y="415.1"/><use href="#mo" x="492.5" y="414.0"/><use href="#mo" x="492.5" y="412.9"/><use href="#mo" x="492.5" y="411.8"/><use href="#mo" x="492.5" y="410.7"/><use href="#mo" x="492.5" y="409.6"/><use href="#mo" x="492.5" y="408.5"/><use href="#mo" x="492.5" y="407.4"/><use href="#mo" x="492.5" y="406.4"/><use href="#mo" x="492.5" y="405.3"/><use href="#mo" x="492.5" y="404.2"/><use href="#mo" x="492.5" y="403.1"/><use href="#mo" x="492.5" y="402.0"/><use href="#mo" x="492.5" y="400.9"/><use href="#mo" x="492.5" y="399.8"/><use href="#mo" x="492.5" y="398.7"/></g>
<rect x="484.40" y="408.22" width="5.6" height="5.6" fill="#000"/>
<circle cx="492.50" cy="411.02" r="2.55" stroke="#111" stroke-width="1.3" fill="none"/>
<path d="M498.09 403.51V409.01M496.29 406.01H499.89" stroke="#0000ff" stroke-width="1" fill="none"/>
<path d="M498.09 402.21L502.39 409.71H493.79Z" stroke="#0000ff" stroke-width="1.2" fill="none" stroke-linejoin="miter"/>
<g clip-path="url(#clipf)"><use href="#mx" x="541.1" y="421.0"/><use href="#mx" x="541.1" y="419.7"/><use href="#mx" x="541.1" y="418.4"/><use href="#mx" x="541.1" y="417.1"/><use href="#mx" x="541.1" y="415.8"/><use href="#mx" x="541.1" y="414.5"/><use href="#mx" x="541.1" y="413.2"/><use href="#mx" x="541.1" y="411.9"/><use href="#mx" x="541.1" y="410.6"/><use href="#mx" x="541.1" y="409.4"/><use href="#mx" x="541.1" y="408.1"/></g>
<g clip-path="url(#clipf)"><use href="#mo" x="546.4" y="399.4"/><use href="#mo" x="546.4" y="419.9"/><use href="#mo" x="546.4" y="418.8"/><use href="#mo" x="546.4" y="417.7"/><use href="#mo" x="546.4" y="416.5"/><use href="#mo" x="546.4" y="415.4"/><use href="#mo" x="546.4" y="414.3"/><use href="#mo" x="546.4" y="413.2"/><use href="#mo" x="546.4" y="412.1"/><use href="#mo" x="546.4" y="411.0"/><use href="#mo" x="546.4" y="409.9"/><use href="#mo" x="546.4" y="408.8"/><use href="#mo" x="546.4" y="407.6"/><use href="#mo" x="546.4" y="406.5"/><use href="#mo" x="546.4" y="405.4"/></g>
<rect x="538.30" y="409.93" width="5.6" height="5.6" fill="#000"/>
<circle cx="546.40" cy="412.73" r="2.55" stroke="#111" stroke-width="1.3" fill="none"/>
<path d="M551.99 417.35V422.85M550.19 419.85H553.79" stroke="#0000ff" stroke-width="1" fill="none"/>
<path d="M551.99 416.05L556.29 423.55H547.69Z" stroke="#0000ff" stroke-width="1.2" fill="none" stroke-linejoin="miter"/>
<line x1="35.5" y1="116.90" x2="305.5" y2="116.90" stroke="#333" stroke-width="1.2"/>
<line x1="331.0" y1="108.50" x2="600.5" y2="108.50" stroke="#333" stroke-width="1.2"/>
<line x1="35.5" y1="252.50" x2="305.5" y2="252.50" stroke="#333" stroke-width="1.2"/>
<line x1="331.0" y1="252.50" x2="600.5" y2="252.50" stroke="#333" stroke-width="1.2"/>
<line x1="35.5" y1="411.80" x2="305.5" y2="411.80" stroke="#333" stroke-width="1.2"/>
<line x1="331.0" y1="411.80" x2="600.5" y2="411.80" stroke="#333" stroke-width="1.2"/>
<text x="30.90" y="19.20" font-size="10.5" text-anchor="end" >40</text>
<text x="30.90" y="44.55" font-size="10.5" text-anchor="end" >30</text>
<text x="30.90" y="69.90" font-size="10.5" text-anchor="end" >20</text>
<text x="30.90" y="95.25" font-size="10.5" text-anchor="end" >10</text>
<text x="30.90" y="120.60" font-size="10.5" text-anchor="end" >0</text>
<text x="30.90" y="145.95" font-size="10.5" text-anchor="end" >-10</text>
<text x="125.50" y="168.70" font-size="10.5" text-anchor="middle" >Global</text>
<text x="215.50" y="168.70" font-size="10.5" text-anchor="middle" >Tropics</text>
<path d="M35.5 15.5H305.5V155.5H35.5ZM35.5 15.50h3M305.5 15.50h-3M35.5 40.85h3M305.5 40.85h-3M35.5 66.20h3M305.5 66.20h-3M35.5 91.55h3M305.5 91.55h-3M35.5 116.90h3M305.5 116.90h-3M35.5 142.25h3M305.5 142.25h-3M125.50 155.5v-3M125.50 15.5v3M215.50 155.5v-3M215.50 15.5v3" fill="none" stroke="#333" stroke-width="1.2"/>
<text x="326.40" y="18.60" font-size="10.5" text-anchor="end" >10</text>
<text x="326.40" y="65.40" font-size="10.5" text-anchor="end" >5</text>
<text x="326.40" y="112.20" font-size="10.5" text-anchor="end" >0</text>
<text x="326.40" y="159.00" font-size="10.5" text-anchor="end" >-5</text>
<text x="420.83" y="168.70" font-size="10.5" text-anchor="middle" >Global</text>
<text x="510.67" y="168.70" font-size="10.5" text-anchor="middle" >Tropics</text>
<path d="M331.0 15.5H600.5V155.5H331.0ZM331.0 14.90h3M600.5 14.90h-3M331.0 61.70h3M600.5 61.70h-3M331.0 108.50h3M600.5 108.50h-3M331.0 155.30h3M600.5 155.30h-3M420.83 155.5v-3M420.83 15.5v3M510.67 155.5v-3M510.67 15.5v3" fill="none" stroke="#333" stroke-width="1.2"/>
<text x="30.90" y="194.20" font-size="10.5" text-anchor="end" >40</text>
<text x="30.90" y="225.20" font-size="10.5" text-anchor="end" >20</text>
<text x="30.90" y="256.20" font-size="10.5" text-anchor="end" >0</text>
<text x="30.90" y="287.20" font-size="10.5" text-anchor="end" >-20</text>
<text x="30.90" y="318.20" font-size="10.5" text-anchor="end" >-40</text>
<text x="89.50" y="327.70" font-size="10.5" text-anchor="middle" >JFM</text>
<text x="143.50" y="327.70" font-size="10.5" text-anchor="middle" >AMJ</text>
<text x="197.50" y="327.70" font-size="10.5" text-anchor="middle" >JAS</text>
<text x="251.50" y="327.70" font-size="10.5" text-anchor="middle" >OND</text>
<path d="M35.5 175.5H305.5V314.5H35.5ZM35.5 190.50h3M305.5 190.50h-3M35.5 221.50h3M305.5 221.50h-3M35.5 252.50h3M305.5 252.50h-3M35.5 283.50h3M305.5 283.50h-3M35.5 314.50h3M305.5 314.50h-3M89.50 314.5v-3M89.50 175.5v3M143.50 314.5v-3M143.50 175.5v3M197.50 314.5v-3M197.50 175.5v3M251.50 314.5v-3M251.50 175.5v3" fill="none" stroke="#333" stroke-width="1.2"/>
<text x="326.40" y="194.20" font-size="10.5" text-anchor="end" >40</text>
<text x="326.40" y="225.20" font-size="10.5" text-anchor="end" >20</text>
<text x="326.40" y="256.20" font-size="10.5" text-anchor="end" >0</text>
<text x="326.40" y="287.20" font-size="10.5" text-anchor="end" >-20</text>
<text x="326.40" y="318.20" font-size="10.5" text-anchor="end" >-40</text>
<text x="384.90" y="327.70" font-size="10.5" text-anchor="middle" >JFM</text>
<text x="438.80" y="327.70" font-size="10.5" text-anchor="middle" >AMJ</text>
<text x="492.70" y="327.70" font-size="10.5" text-anchor="middle" >JAS</text>
<text x="546.60" y="327.70" font-size="10.5" text-anchor="middle" >OND</text>
<path d="M331.0 175.5H600.5V314.5H331.0ZM331.0 190.50h3M600.5 190.50h-3M331.0 221.50h3M600.5 221.50h-3M331.0 252.50h3M600.5 252.50h-3M331.0 283.50h3M600.5 283.50h-3M331.0 314.50h3M600.5 314.50h-3M384.90 314.5v-3M384.90 175.5v3M438.80 314.5v-3M438.80 175.5v3M492.70 314.5v-3M492.70 175.5v3M546.60 314.5v-3M546.60 175.5v3" fill="none" stroke="#333" stroke-width="1.2"/>
<text x="30.90" y="353.30" font-size="10.5" text-anchor="end" >40</text>
<text x="30.90" y="384.40" font-size="10.5" text-anchor="end" >20</text>
<text x="30.90" y="415.50" font-size="10.5" text-anchor="end" >0</text>
<text x="30.90" y="446.60" font-size="10.5" text-anchor="end" >-20</text>
<text x="30.90" y="477.70" font-size="10.5" text-anchor="end" >-40</text>
<text x="89.50" y="487.70" font-size="10.5" text-anchor="middle" >40S-20S</text>
<text x="143.50" y="487.70" font-size="10.5" text-anchor="middle" >20S-0</text>
<text x="197.50" y="487.70" font-size="10.5" text-anchor="middle" >0-20N</text>
<text x="251.50" y="487.70" font-size="10.5" text-anchor="middle" >20N-40N</text>
<path d="M35.5 334.6H305.5V474.5H35.5ZM35.5 349.60h3M305.5 349.60h-3M35.5 380.70h3M305.5 380.70h-3M35.5 411.80h3M305.5 411.80h-3M35.5 442.90h3M305.5 442.90h-3M35.5 474.00h3M305.5 474.00h-3M89.50 474.5v-3M89.50 334.6v3M143.50 474.5v-3M143.50 334.6v3M197.50 474.5v-3M197.50 334.6v3M251.50 474.5v-3M251.50 334.6v3" fill="none" stroke="#333" stroke-width="1.2"/>
<text x="326.40" y="353.30" font-size="10.5" text-anchor="end" >40</text>
<text x="326.40" y="384.40" font-size="10.5" text-anchor="end" >20</text>
<text x="326.40" y="415.50" font-size="10.5" text-anchor="end" >0</text>
<text x="326.40" y="446.60" font-size="10.5" text-anchor="end" >-20</text>
<text x="326.40" y="477.70" font-size="10.5" text-anchor="end" >-40</text>
<text x="384.90" y="487.70" font-size="10.5" text-anchor="middle" >40S-20S</text>
<text x="438.80" y="487.70" font-size="10.5" text-anchor="middle" >20S-0</text>
<text x="492.70" y="487.70" font-size="10.5" text-anchor="middle" >0-20N</text>
<text x="546.60" y="487.70" font-size="10.5" text-anchor="middle" >20N-40N</text>
<path d="M331.0 334.6H600.5V474.5H331.0ZM331.0 349.60h3M600.5 349.60h-3M331.0 380.70h3M600.5 380.70h-3M331.0 411.80h3M600.5 411.80h-3M331.0 442.90h3M600.5 442.90h-3M331.0 474.00h3M600.5 474.00h-3M384.90 474.5v-3M384.90 334.6v3M438.80 474.5v-3M438.80 334.6v3M492.70 474.5v-3M492.70 334.6v3M546.60 474.5v-3M546.60 334.6v3" fill="none" stroke="#333" stroke-width="1.2"/>
<rect x="96.5" y="457.7" width="441" height="16.8" fill="#fff" stroke="#333" stroke-width="1.2"/>
<path d="M116.3 463L120.3 467M116.3 467L120.3 463" stroke="#999" stroke-width="1" fill="none"/>
<text x="136.90" y="471.20" font-size="9.3" text-anchor="start" textLength="63" lengthAdjust="spacingAndGlyphs" >sim(1930-2005)</text>
<circle cx="222.4" cy="465" r="2.4" stroke="#888" stroke-width="1" fill="none"/>
<text x="241.90" y="471.20" font-size="9.3" text-anchor="start" textLength="62.8" lengthAdjust="spacingAndGlyphs" >sim(1979-2005)</text>
<rect x="324.00" y="462.40" width="5.2" height="5.2" fill="#000"/>
<text x="346.00" y="471.20" font-size="9.3" text-anchor="start" textLength="72" lengthAdjust="spacingAndGlyphs" >MMM(1930-2005)</text>
<circle cx="440.6" cy="465" r="2.4" stroke="#222" stroke-width="1.1" fill="none"/>
<text x="460.90" y="471.20" font-size="9.3" text-anchor="start" textLength="72.8" lengthAdjust="spacingAndGlyphs" >MMM(1979-2005)</text>
<text x="441.60" y="8.70" font-size="10.5" text-anchor="start" textLength="46.5" lengthAdjust="spacingAndGlyphs" >All Ocean</text>
<text x="153.70" y="8.80" font-size="10" text-anchor="start" textLength="31.6" lengthAdjust="spacingAndGlyphs" >Islands</text>
<text x="52.80" y="32.70" font-size="10.5" text-anchor="start" textLength="38.4" lengthAdjust="spacingAndGlyphs" >(a) ANN</text>
<text x="348.30" y="29.10" font-size="10.5" text-anchor="start" textLength="37.8" lengthAdjust="spacingAndGlyphs" >(b) ANN</text>
<text x="45.60" y="187.80" font-size="10.5" text-anchor="start" textLength="65.4" lengthAdjust="spacingAndGlyphs" >(c) wet tropics</text>
<text x="340.80" y="188.00" font-size="10.5" text-anchor="start" textLength="65.6" lengthAdjust="spacingAndGlyphs" >(d) wet tropics</text>
<text x="45.60" y="346.80" font-size="10.5" text-anchor="start" textLength="38.2" lengthAdjust="spacingAndGlyphs" >(e) ANN</text>
<text x="341.00" y="346.80" font-size="10.5" text-anchor="start" textLength="34.9" lengthAdjust="spacingAndGlyphs" >(f) ANN</text>
<text transform="translate(10.7 86.1) rotate(-90)" x="0" y="0" font-size="10" text-anchor="middle" textLength="55.4" lengthAdjust="spacingAndGlyphs">dP/dT (%/K)</text>
<text transform="translate(10.7 245.0) rotate(-90)" x="0" y="0" font-size="10" text-anchor="middle" textLength="55.4" lengthAdjust="spacingAndGlyphs">dP/dT (%/K)</text>
<text transform="translate(10.7 404.6) rotate(-90)" x="0" y="0" font-size="10" text-anchor="middle" textLength="55.4" lengthAdjust="spacingAndGlyphs">dP/dT (%/K)</text>
</svg></body></html>
